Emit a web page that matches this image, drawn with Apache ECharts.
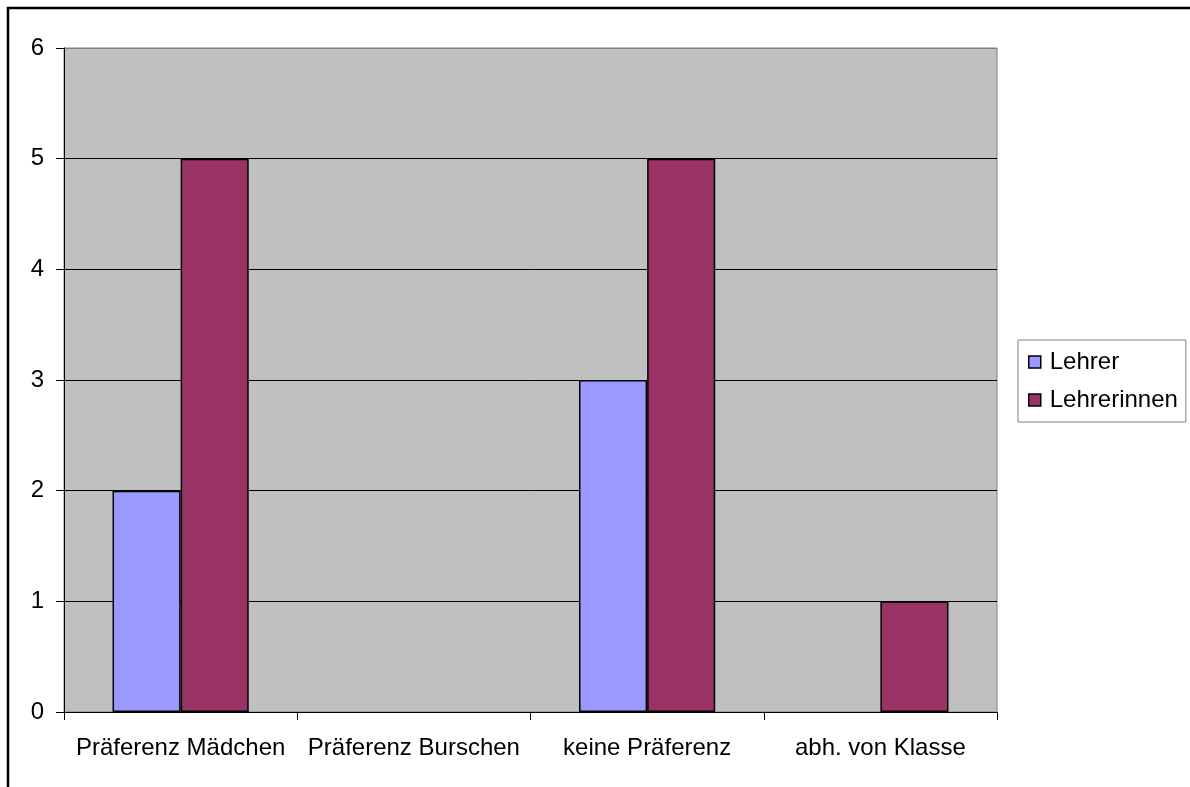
<!DOCTYPE html>
<html>
<head>
<meta charset="utf-8">
<style>
  html, body { margin: 0; padding: 0; background: #fff; }
  #chart { width: 1190px; height: 787px; }
</style>
<script src="https://cdn.jsdelivr.net/npm/echarts@6/dist/echarts.min.js"></script>
</head>
<body>
<div id="chart"></div>
<script>
// Kategorien und Werte
const categories = ['Präferenz Mädchen', 'Präferenz Burschen', 'keine Präferenz', 'abh. von Klasse'];
const lehrer = [2, 0, 3, 0];
const lehrerinnen = [5, 0, 5, 1];
const seriesNames = ['Lehrer', 'Lehrerinnen'];
const seriesColors = ['#9999FF', '#993366'];

const FONT = '"Liberation Sans", Arial, sans-serif';
const FONT_SIZE = 24;

// Balken mit Wert 0 ohne Umrandung, damit keine Linie auf der Achse entsteht
const toBarData = values => values.map(v => v === 0 ? { value: v, itemStyle: { borderWidth: 0 } } : v);

const chart = echarts.init(document.getElementById('chart'), null, { renderer: 'canvas' });

chart.setOption({
  animation: false,
  backgroundColor: '#ffffff',
  textStyle: { fontFamily: FONT },
  graphic: [{
    type: 'rect',
    silent: true,
    shape: { x: 8, y: 8, width: 2000, height: 2000 },
    style: { fill: 'none', stroke: '#000', lineWidth: 2.5 }
  }],
  grid: {
    left: 64, right: 193, top: 48, bottom: 75,
    show: true,
    backgroundColor: '#C0C0C0',
    borderColor: '#808080',
    borderWidth: 1
  },
  legend: {
    orient: 'vertical',
    left: 1018, top: 340,
    padding: [10, 8, 10, 10],
    itemGap: 14,
    itemWidth: 12, itemHeight: 12,
    icon: 'rect',
    borderColor: '#808080',
    borderWidth: 1,
    itemStyle: { borderColor: '#000', borderWidth: 1.5 },
    textStyle: { fontFamily: FONT, fontSize: FONT_SIZE, color: '#000', padding: [0, 0, 0, 4] },
    data: seriesNames
  },
  xAxis: {
    type: 'category',
    data: categories,
    axisLine: { lineStyle: { color: '#000', width: 1 } },
    axisTick: { show: true, length: 8, lineStyle: { color: '#000' } },
    axisLabel: { color: '#000', fontSize: FONT_SIZE, fontFamily: FONT, margin: 24, interval: 0 }
  },
  yAxis: {
    type: 'value',
    min: 0, max: 6, interval: 1,
    axisLine: { show: true, lineStyle: { color: '#000', width: 1 } },
    axisTick: { show: true, length: 8, lineStyle: { color: '#000' } },
    axisLabel: { color: '#000', fontSize: FONT_SIZE, fontFamily: FONT, margin: 20 },
    splitLine: {
      show: true,
      lineStyle: { color: ['#000', '#000', '#000', '#000', '#000', '#000', '#808080'], width: 1 }
    }
  },
  series: [
    {
      name: seriesNames[0],
      type: 'bar',
      data: toBarData(lehrer),
      barGap: '0%',
      barCategoryGap: '41.6%',
      itemStyle: { color: seriesColors[0], borderColor: '#000', borderWidth: 1.5 }
    },
    {
      name: seriesNames[1],
      type: 'bar',
      data: toBarData(lehrerinnen),
      barGap: '0%',
      barCategoryGap: '41.6%',
      itemStyle: { color: seriesColors[1], borderColor: '#000', borderWidth: 1.5 }
    }
  ]
});
</script>
</body>
</html>
